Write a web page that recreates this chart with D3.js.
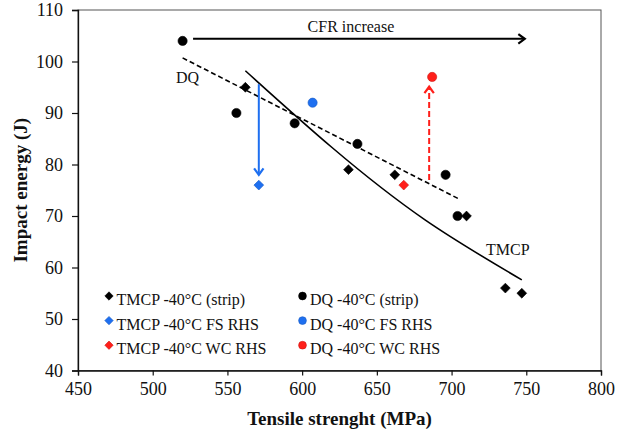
<!DOCTYPE html>
<html>
<head>
<meta charset="utf-8">
<script src="https://cdn.jsdelivr.net/npm/d3@7"></script>
<style>
  body { margin: 0; background: #fff; }
  text { font-family: "Liberation Serif", "Times New Roman", serif; fill: #111; }
</style>
</head>
<body>
<svg id="chart" width="629" height="436"></svg>
<script>
// ---- datos ----
const xTicks = [450, 500, 550, 600, 650, 700, 750, 800];
const yTicks = [40, 50, 60, 70, 80, 90, 100, 110];

const tmcpStrip = [[562, 95], [631, 79], [662, 78], [710, 70], [736, 56], [747, 55]];
const dqStrip   = [[520, 104], [556, 90], [595, 88], [637, 84], [696, 78], [704, 70]];
const tmcpFs    = [[571, 76]];
const dqFs      = [[607, 92]];
const tmcpWc    = [[668, 76]];
const dqWc      = [[687, 97]];

// líneas de tendencia
const dqTrend   = [[520, 100.7], [705, 73.3]];
const tmcpTrend = [[562, 98.2], [620, 83.3], [682, 69.3], [747, 57.6]];

// flechas
const cfrArrow  = [[527, 104.4], [749, 104.4]];
const fsArrow   = [[571, 95.6], [571, 78]];
const wcArrow   = [[685, 77], [685, 95.1]];

const legendLabels = [
  'TMCP -40°C (strip)', 'DQ -40°C (strip)',
  'TMCP -40°C FS RHS',  'DQ -40°C FS RHS',
  'TMCP -40°C WC RHS',  'DQ -40°C WC RHS'
];

const BLACK = '#000', BLUE = '#1e6ff0', RED = '#ff1f1a';

const series = [
  { data: tmcpStrip, shape: 'diamond', color: BLACK, label: legendLabels[0] },
  { data: dqStrip,   shape: 'circle',  color: BLACK, label: legendLabels[1] },
  { data: tmcpFs,    shape: 'diamond', color: BLUE,  label: legendLabels[2] },
  { data: dqFs,      shape: 'circle',  color: BLUE,  label: legendLabels[3] },
  { data: tmcpWc,    shape: 'diamond', color: RED,   label: legendLabels[4] },
  { data: dqWc,      shape: 'circle',  color: RED,   label: legendLabels[5] },
];

// ---- escalas ----
const L = 78, R = 601, T = 10, B = 370.5;
const x = d3.scaleLinear().domain([450, 800]).range([L, R]);
const y = d3.scaleLinear().domain([40, 110]).range([B, T]);

const svg = d3.select('#chart');

// marco
svg.append('rect')
  .attr('x', L).attr('y', T).attr('width', R - L).attr('height', B - T)
  .attr('fill', 'none').attr('stroke', '#555').attr('stroke-width', 1);

// ejes
const gx = svg.append('g')
  .attr('transform', `translate(0,${B})`)
  .call(d3.axisBottom(x).tickValues(xTicks).tickSize(5).tickPadding(7).tickFormat(d3.format('d')));
const gy = svg.append('g')
  .attr('transform', `translate(${L},0)`)
  .call(d3.axisLeft(y).tickValues(yTicks).tickSize(6).tickPadding(9).tickFormat(d3.format('d')));

[gx, gy].forEach(g => {
  g.select('.domain').attr('stroke', '#111').attr('stroke-width', 1.3);
  g.selectAll('.tick line').attr('stroke', '#111').attr('stroke-width', 1.2);
  g.selectAll('.tick text').attr('font-size', 18).attr('fill', '#111')
    .attr('font-family', '"Liberation Serif", serif');
});

// títulos de ejes
svg.append('text')
  .attr('x', (L + R) / 2).attr('y', 425)
  .attr('text-anchor', 'middle')
  .attr('font-size', 19).attr('font-weight', 'bold')
  .text('Tensile strenght (MPa)');

svg.append('text')
  .attr('transform', `translate(27,${(T + B) / 2}) rotate(-90)`)
  .attr('text-anchor', 'middle')
  .attr('font-size', 19).attr('font-weight', 'bold')
  .text('Impact energy (J)');

// ---- tendencias ----
svg.append('path')
  .datum(dqTrend)
  .attr('d', d3.line().x(d => x(d[0])).y(d => y(d[1])))
  .attr('fill', 'none').attr('stroke', '#000')
  .attr('stroke-width', 1.6).attr('stroke-dasharray', '5,3');

svg.append('path')
  .datum(tmcpTrend)
  .attr('d', d3.line().x(d => x(d[0])).y(d => y(d[1])).curve(d3.curveNatural))
  .attr('fill', 'none').attr('stroke', '#000').attr('stroke-width', 1.6);

svg.append('text').attr('x', 176).attr('y', 83).attr('font-size', 16).attr('fill', '#222').text('DQ');
svg.append('text').attr('x', 486).attr('y', 255).attr('font-size', 16).attr('fill', '#222').text('TMCP');

// ---- flechas ----
function arrow(pts, color, dashed) {
  const [x0, y0] = [x(pts[0][0]), y(pts[0][1])];
  const [x1, y1] = [x(pts[1][0]), y(pts[1][1])];
  const ang = Math.atan2(y1 - y0, x1 - x0);
  const hl = 8, ha = Math.PI / 5;
  svg.append('line')
    .attr('x1', x0).attr('y1', y0).attr('x2', x1 - Math.cos(ang) * 1.5).attr('y2', y1 - Math.sin(ang) * 1.5)
    .attr('stroke', color).attr('stroke-width', 2)
    .attr('stroke-dasharray', dashed ? '6,3' : null);
  const head = [
    [x1 - hl * Math.cos(ang - ha), y1 - hl * Math.sin(ang - ha)],
    [x1, y1],
    [x1 - hl * Math.cos(ang + ha), y1 - hl * Math.sin(ang + ha)]
  ];
  svg.append('path')
    .attr('d', d3.line()(head))
    .attr('fill', 'none').attr('stroke', color).attr('stroke-width', 2.2)
    .attr('stroke-linejoin', 'miter');
}

arrow(cfrArrow, '#000', false);
arrow(fsArrow, BLUE, false);
arrow(wcArrow, RED, true);

svg.append('text')
  .attr('x', x(d3.mean(cfrArrow, d => d[0])) - 8).attr('y', 32)
  .attr('text-anchor', 'middle').attr('font-size', 16).attr('fill', '#222')
  .text('CFR increase');

// ---- marcadores ----
function marker(g, shape, color, cx, cy, s) {
  if (shape === 'circle') {
    g.append('circle').attr('cx', cx).attr('cy', cy).attr('r', s)
      .attr('fill', color).attr('stroke', d3.color(color).darker(0.6)).attr('stroke-width', 0.6);
  } else {
    const h = s + 0.3;
    g.append('path')
      .attr('d', `M${cx},${cy - h}L${cx + h},${cy}L${cx},${cy + h}L${cx - h},${cy}Z`)
      .attr('fill', color).attr('stroke', d3.color(color).darker(0.6)).attr('stroke-width', 0.6);
  }
}

const gm = svg.append('g');
series.forEach(s => {
  s.data.forEach(d => marker(gm, s.shape, s.color, x(d[0]), y(d[1]), 4.6));
});

// ---- leyenda ----
const gl = svg.append('g');
series.forEach((s, i) => {
  const col = i % 2, row = Math.floor(i / 2);
  const mx = col === 0 ? 109 : 302.5;
  const my = 296 + row * 24.6;
  marker(gl, s.shape, s.color, mx, my, 3.9);
  gl.append('text')
    .attr('x', mx + 7.5).attr('y', my + 9)
    .attr('font-size', 16).attr('fill', '#111')
    .text(s.label);
});
</script>
</body>
</html>
